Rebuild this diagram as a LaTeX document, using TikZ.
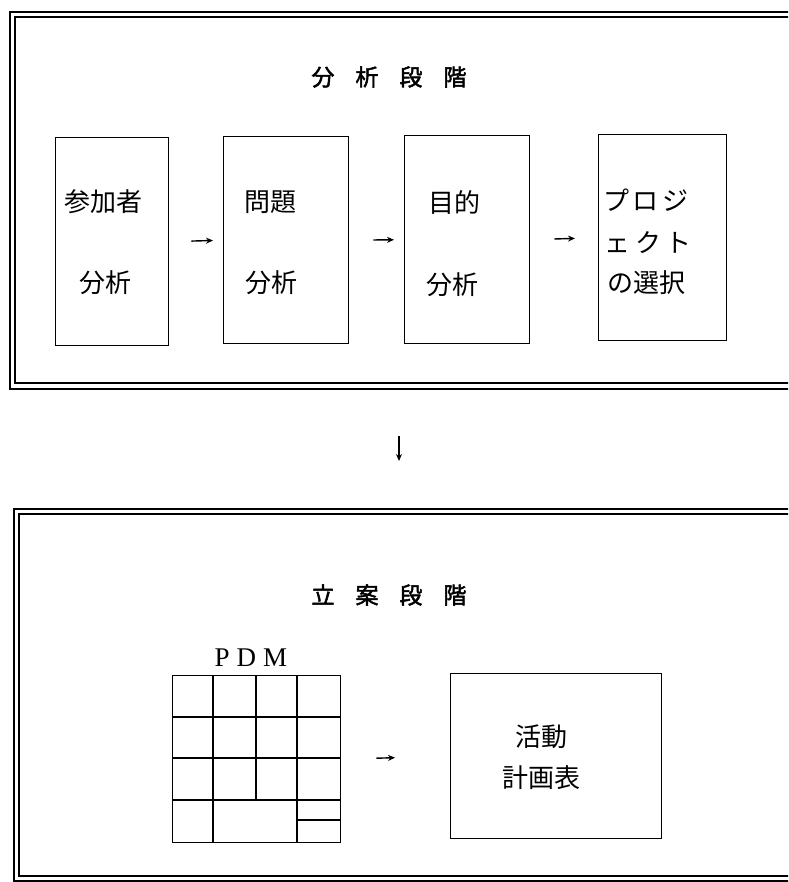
\documentclass[tikz,border=0pt]{standalone}
\usepackage{fontspec}
\setmainfont{Liberation Serif}
\newfontfamily\jp{Noto Sans CJK JP}
\newfontfamily\jpb[FakeBold=2]{Noto Sans CJK JP}
\usetikzlibrary{arrows.meta}
\begin{document}
\begin{tikzpicture}[x=1pt,y=-1pt,
  framel/.style={line width=1.1pt},
  stagebox/.style={draw, line width=1.4pt, inner sep=0pt, anchor=north west},
  lbl/.style={font=\jp\fontsize{26}{26}\selectfont, inner sep=0pt},
  ttl/.style={font=\jpb\fontsize{23}{23}\selectfont, inner sep=0pt},
  arr/.style={-{Stealth[length=7pt,width=6pt]}, line width=1.4pt},
  gridl/.style={line width=1.3pt}]
\useasboundingbox (0,0) rectangle (788,882);
\clip (0,0) rectangle (788,882);
\fill[white] (0,0) rectangle (788,882);

% top frame (double line, open at right)
\draw[framel] (800,12) -| (10,389) -- (800,389);
\draw[framel] (800,17) -| (15,383) -- (800,383);
% bottom frame
\draw[framel] (800,509) -| (14,881) -- (800,881);
\draw[framel] (800,514) -| (19,876) -- (800,876);

% titles
\node[ttl] (t1) at (389,77) {分\kern21pt析\kern21pt段\kern21pt階};
\node[ttl] (t2) at (389,595) {立\kern21pt案\kern21pt段\kern21pt階};

% analysis boxes
\node[stagebox, minimum width=113pt, minimum height=208pt] (b1) at (55,137) {};
\node[stagebox, minimum width=125pt, minimum height=207pt] (b2) at (223,136) {};
\node[stagebox, minimum width=125pt, minimum height=208pt] (b3) at (404,135) {};
\node[stagebox, minimum width=128pt, minimum height=206pt] (b4) at (598,134) {};

\node[lbl] (b1a) at (103,202) {参加者};
\node[lbl] (b1b) at (105,283) {分析};
\node[lbl] (b2a) at (270,202) {問題};
\node[lbl] (b2b) at (271,283) {分析};
\node[lbl] (b3a) at (454,202) {目的};
\node[lbl] (b3b) at (452,285) {分析};
\node[lbl] (b4a) at (646,200) {プ\kern4ptロ\kern4ptジ};
\node[lbl] (b4b) at (648,243) {ェ\kern5ptク\kern5ptト};
\node[lbl] (b4c) at (646,283) {の選択};

\draw[arr, shorten <=22pt, shorten >=10pt] (b1.east) -- (b2.west);
\draw[arr, shorten <=24pt, shorten >=10pt] (b2.east) -- (b3.west);
\draw[arr, shorten <=24pt, shorten >=23pt] (b3.east) -- (b4.west);

% down arrow between frames
\coordinate (tf) at (399,389);
\coordinate (bf) at (399,509);
\draw[arr, shorten <=47pt, shorten >=48pt] (tf) -- (bf);

% PDM
\node[font=\fontsize{27}{27}\selectfont, inner sep=0pt] (pdmt) at (251,658) {P\kern7ptD\kern7ptM};
\node[draw, gridl, inner sep=0pt, anchor=north west, minimum width=168pt, minimum height=167pt] (pdm) at (172,675) {};
\draw[gridl] (172,717) -- (340,717);
\draw[gridl] (172,758) -- (340,758);
\draw[gridl] (172,800) -- (340,800);
\draw[gridl] (213,675) -- (213,842);
\draw[gridl] (297,675) -- (297,842);
\draw[gridl] (256,675) -- (256,800);
\draw[gridl] (297,820) -- (340,820);

% plan box
\node[stagebox, minimum width=211pt, minimum height=165pt] (plan) at (450,673) {};
\node[lbl] (pa) at (541,737) {活動};
\node[lbl] (pb) at (541,778) {計画表};

\draw[arr, shorten <=35pt, shorten >=55pt] (pdm.east) -- (plan.west);
\end{tikzpicture}
\end{document}
